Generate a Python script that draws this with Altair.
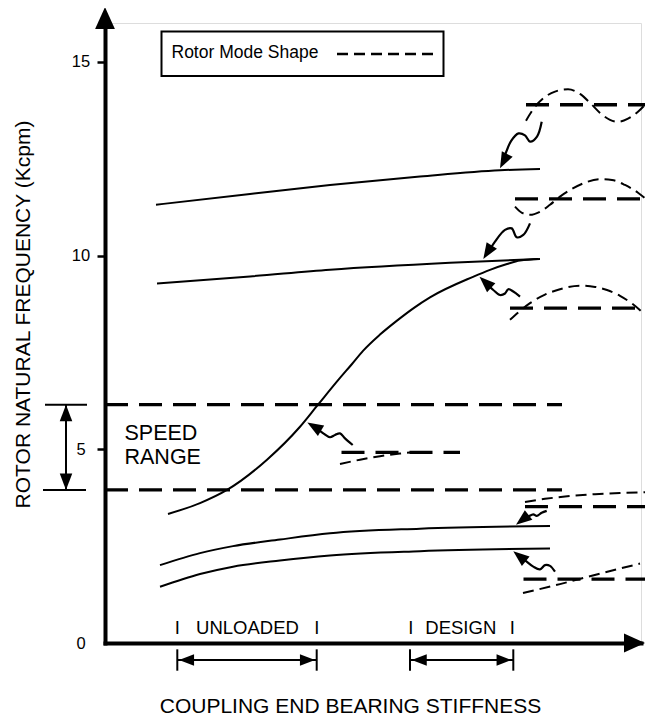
import altair as alt
import pandas as pd

FONT = "Liberation Sans"

# ---------------- data ----------------
# y axis ticks (Kcpm)
y_tick_values = [0, 5, 10, 15]

# rotor natural-frequency curves: x = relative coupling-end bearing stiffness, y = Kcpm
curve_A_x = [10.2, 29, 45, 63, 79, 87]
curve_A_y = [11.31, 11.59, 11.82, 12.04, 12.20, 12.23]
curve_B_x = [10.4, 29, 45, 69, 86.6]
curve_B_y = [9.28, 9.46, 9.63, 9.81, 9.91]
curve_C_x = [12.6, 19, 24.4, 32.4, 39, 42.6, 47, 49.4, 51.6, 55, 58.4, 61.8, 65, 73.6, 77, 80.4, 83, 87]
curve_C_y = [3.33, 3.61, 3.95, 4.73, 5.58, 6.15, 6.84, 7.20, 7.54, 7.96, 8.32, 8.65, 8.92, 9.45, 9.63, 9.78, 9.87, 9.91]
curve_D_x = [11, 19, 25.6, 35, 45, 63, 89]
curve_D_y = [2.01, 2.32, 2.50, 2.67, 2.83, 2.95, 3.02]
curve_E_x = [11, 19, 25.6, 35, 45, 63, 89]
curve_E_y = [1.45, 1.78, 1.97, 2.13, 2.26, 2.37, 2.44]

# speed range limits (Kcpm) and extent of the dashed lines
speed_hi = 6.15
speed_lo = 3.95
speed_line_x = [0, 91.4]

# rotor mode shapes: baseline level, baseline extent, deflected shape
mode_names = ["m1", "m2", "m3", "m4", "m5", "m6"]
mode_base_y = [13.89, 11.46, 8.64, 4.92, 3.52, 1.65]
mode_base_x0 = [84.2, 82.0, 81.0, 47.3, 84.0, 83.7]
mode_base_x1 = [108.0, 107.3, 109.6, 71.0, 108.0, 108.0]
mode1_x = [84.2, 85.6, 87.6, 90, 92.6, 95, 97, 99, 101, 102.6, 104.6, 106.6, 108]
mode1_y = [13.48, 13.77, 14.05, 14.23, 14.29, 14.17, 13.94, 13.68, 13.50, 13.45, 13.53, 13.71, 13.89]
mode2_x = [82, 83.4, 85, 87, 89, 91, 93.4, 96, 99, 101.4, 104, 106.6, 109]
mode2_y = [11.26, 11.10, 11.05, 11.13, 11.31, 11.52, 11.72, 11.88, 11.97, 11.95, 11.82, 11.62, 11.36]
mode3_x = [81, 83, 85, 88, 91, 95, 98, 100.4, 103, 105.6, 108]
mode3_y = [8.34, 8.57, 8.77, 8.99, 9.13, 9.22, 9.19, 9.11, 8.96, 8.74, 8.47]
mode4_x = [47, 51, 55, 59, 62]
mode4_y = [4.62, 4.73, 4.82, 4.89, 4.93]
mode5_x = [84, 88, 92, 98, 103, 108]
mode5_y = [3.64, 3.72, 3.78, 3.84, 3.87, 3.89]
mode6_x = [83.6, 91, 99, 107]
mode6_y = [1.29, 1.52, 1.79, 2.05]

# wavy pointer arrows (from mode shape to curve)
wave1_x = [87.34, 86.4, 85.0, 84.0, 82.7, 81.2, 80.0, 79.6]
wave1_y = [13.45, 13.07, 12.94, 13.10, 13.15, 12.95, 12.59, 12.46]
wave2_x = [85.0, 83.66, 82.34, 81.34, 80.0, 78.0, 77.0]
wave2_y = [10.83, 10.53, 10.47, 10.70, 10.66, 10.36, 10.16]
wave3_x = [83.0, 81.66, 80.66, 80.0, 79.0, 77.66, 76.8]
wave3_y = [8.94, 9.07, 9.13, 9.02, 8.98, 9.11, 9.21]
wave4_x = [49.54, 48.0, 47.0, 46.0, 45.0, 43.66, 42.2]
wave4_y = [5.11, 5.28, 5.41, 5.37, 5.31, 5.41, 5.55]
wave5_x = [88.34, 87.34, 86.34, 85.66, 84.66, 83.66]
wave5_y = [3.41, 3.36, 3.28, 3.32, 3.26, 3.19]
wave6_x = [90.0, 89.0, 88.0, 87.0, 85.66, 84.34, 83.4]
wave6_y = [1.84, 1.99, 2.01, 1.90, 1.97, 2.10, 2.19]
# arrow tips and their directions (degrees, clockwise from up)
tip_x = [79.0, 75.66, 74.9, 40.46, 82.2, 81.66]
tip_y = [12.25, 9.91, 9.45, 5.69, 3.05, 2.37]
tip_angle = [207, 212, 313, 301, 232, 309]

# legend box
legend_box_x = [11.3, 67.7]
legend_box_y = [14.63, 15.78]
legend_label = "Rotor Mode Shape"
legend_label_pos = [13.3, 15.22]
legend_dash_x = [46.4, 65.6]
legend_dash_y = 15.2

# speed range annotation
speed_labels = ["SPEED", "RANGE"]
speed_label_x = 3.9
speed_label_y = [5.39, 4.77]
speed_arrow_x = -7.8
speed_cap_x0 = [-12.0, -12.4]
speed_cap_x1 = [-3.6, -3.8]

# stiffness ranges below the axis
range_names = ["UNLOADED", "DESIGN"]
range_x0 = [14.46, 61.0]
range_x1 = [42.34, 81.66]
range_label_x = [28.5, 71.16]
range_mark_x = [14.46, 42.34, 61.14, 81.46]
range_label_y = 0.38
range_arrow_y = -0.439
range_bar_y = [-0.163, -0.715]

# axis arrow tips
y_axis_tip = [0.0, 16.41]
x_axis_tip = [108.0, 0.0]

# ---------------- helpers ----------------
SMALL_HEAD = "M0,0L-0.38,1L0.38,1Z"
BIG_HEAD = "M0,0L-0.45,1L0.45,1Z"

X_MAX = 107.2
xs = alt.Scale(domain=[0, X_MAX], nice=False, zero=False)
ys = alt.Scale(domain=[0, 16], nice=False, zero=False)

x_axis = alt.Axis(
    domainColor="black", domainWidth=4, domainCap="square",
    ticks=False, labels=False, grid=False,
    title="COUPLING END BEARING STIFFNESS", titleFont=FONT, titleFontSize=21,
    titleFontWeight="normal", titleColor="black",
    titleX=245, titleY=63, titleAlign="center", titleBaseline="middle",
)
y_axis = alt.Axis(
    values=y_tick_values, domainColor="black", domainWidth=4, domainCap="square",
    tickColor="black", tickWidth=2.5, tickSize=8,
    tickOpacity={"condition": {"test": "datum.value === 0", "value": 0}, "value": 1},
    labelFont=FONT, labelFontSize=16.5, labelColor="black", labelAlign="center",
    labelPadding=16.5, labelBaseline="middle", grid=False,
    title="ROTOR NATURAL FREQUENCY (Kcpm)", titleFont=FONT, titleFontSize=21,
    titleFontWeight="normal", titleColor="black",
    titleX=-82, titleY=291, titleAngle=270, titleAlign="center", titleBaseline="middle",
)


def X(f="x"):
    return alt.X(f"{f}:Q", scale=xs, axis=x_axis)


def Y(f="y"):
    return alt.Y(f"{f}:Q", scale=ys, axis=y_axis)


def series_df(items):
    rows = []
    for name, xx, yy in items:
        for i, (a, b) in enumerate(zip(xx, yy)):
            rows.append({"id": name, "i": i, "x": a, "y": b})
    return pd.DataFrame(rows)


def line_layer(df, **mark):
    return alt.Chart(df).mark_line(color="black", **mark).encode(
        x=X(), y=Y(), detail="id:N", order="i:Q"
    )


layers = []

# legend box
legend_df = pd.DataFrame([{"x": legend_box_x[0], "x2": legend_box_x[1],
                           "y": legend_box_y[0], "y2": legend_box_y[1]}])
layers.append(alt.Chart(legend_df).mark_rect(fill="white", stroke="black", strokeWidth=2).encode(
    x=X(), x2=alt.X2("x2"), y=Y(), y2=alt.Y2("y2")))
layers.append(line_layer(series_df([("leg", legend_dash_x, [legend_dash_y, legend_dash_y])]),
                         strokeWidth=2.5, strokeDash=[11, 6]))

# solid frequency curves
curves = series_df([("A", curve_A_x, curve_A_y), ("B", curve_B_x, curve_B_y),
                    ("C", curve_C_x, curve_C_y), ("D", curve_D_x, curve_D_y),
                    ("E", curve_E_x, curve_E_y)])
layers.append(line_layer(curves, strokeWidth=2, interpolate="monotone"))

# speed range dashed lines
speed_df = series_df([("hi", speed_line_x, [speed_hi, speed_hi]),
                      ("lo", speed_line_x, [speed_lo, speed_lo])])
layers.append(line_layer(speed_df, strokeWidth=3.3, strokeDash=[23, 11]))

# mode baselines
base_df = series_df([(n, [a, b], [y, y]) for n, a, b, y in
                     zip(mode_names, mode_base_x0, mode_base_x1, mode_base_y)])
layers.append(line_layer(base_df, strokeWidth=3.3, strokeDash=[23, 11]))

# mode shapes
shapes_df = series_df([("m1", mode1_x, mode1_y), ("m2", mode2_x, mode2_y),
                       ("m3", mode3_x, mode3_y), ("m4", mode4_x, mode4_y),
                       ("m5", mode5_x, mode5_y), ("m6", mode6_x, mode6_y)])
layers.append(line_layer(shapes_df, strokeWidth=2, strokeDash=[11, 6], interpolate="monotone"))

# wavy pointers
waves_df = series_df([("w1", wave1_x, wave1_y), ("w2", wave2_x, wave2_y),
                      ("w3", wave3_x, wave3_y), ("w4", wave4_x, wave4_y),
                      ("w5", wave5_x, wave5_y), ("w6", wave6_x, wave6_y)])
layers.append(line_layer(waves_df, strokeWidth=2.2, interpolate="catmull-rom"))

# straight annotation segments (speed arrow shaft + caps, range shafts + bars)
seg_rows = [{"x": speed_arrow_x, "x2": speed_arrow_x, "y": speed_hi, "y2": speed_lo}]
seg_rows.append({"x": speed_cap_x0[0], "x2": speed_cap_x1[0], "y": speed_hi, "y2": speed_hi})
seg_rows.append({"x": speed_cap_x0[1], "x2": speed_cap_x1[1], "y": speed_lo, "y2": speed_lo})
for a, b in zip(range_x0, range_x1):
    seg_rows.append({"x": a, "x2": b, "y": range_arrow_y, "y2": range_arrow_y})
    for xx in (a, b):
        seg_rows.append({"x": xx, "x2": xx, "y": range_bar_y[0], "y2": range_bar_y[1]})
seg_df = pd.DataFrame(seg_rows)
layers.append(alt.Chart(seg_df).mark_rule(color="black", strokeWidth=2).encode(
    x=X(), x2=alt.X2("x2"), y=Y(), y2=alt.Y2("y2")))

# small arrowheads
head_rows = [{"x": a, "y": b, "a": c, "s": 1024} for a, b, c in zip(tip_x, tip_y, tip_angle)]
head_rows += [{"x": speed_arrow_x, "y": speed_hi, "a": 0, "s": 1089},
              {"x": speed_arrow_x, "y": speed_lo, "a": 180, "s": 1089}]
for a, b in zip(range_x0, range_x1):
    head_rows += [{"x": a + 0.35, "y": range_arrow_y, "a": 270, "s": 900},
                  {"x": b - 0.35, "y": range_arrow_y, "a": 90, "s": 900}]
layers.append(alt.Chart(pd.DataFrame(head_rows)).mark_point(
    shape=SMALL_HEAD, filled=True, opacity=1, color="black").encode(
    x=X(), y=Y(), angle=alt.Angle("a:Q", scale=None), size=alt.Size("s:Q", scale=None)))

# axis arrowheads
axis_heads = pd.DataFrame([{"x": y_axis_tip[0], "y": y_axis_tip[1], "a": 0, "s": 1936},
                           {"x": x_axis_tip[0], "y": x_axis_tip[1], "a": 90, "s": 1764}])
layers.append(alt.Chart(axis_heads).mark_point(
    shape=BIG_HEAD, filled=True, opacity=1, color="black").encode(
    x=X(), y=Y(), angle=alt.Angle("a:Q", scale=None), size=alt.Size("s:Q", scale=None)))

# left-aligned texts
left_texts = pd.DataFrame(
    [{"t": legend_label, "x": legend_label_pos[0], "y": legend_label_pos[1], "s": 17.5}]
    + [{"t": t, "x": speed_label_x, "y": yy, "s": 21.5} for t, yy in zip(speed_labels, speed_label_y)]
)
layers.append(alt.Chart(left_texts).mark_text(
    font=FONT, align="left", baseline="middle", color="black").encode(
    x=X(), y=Y(), text="t:N", size=alt.Size("s:Q", scale=None)))

# centered texts (range labels and range end marks)
center_texts = pd.DataFrame(
    [{"t": t, "x": xx, "y": range_label_y} for t, xx in zip(range_names, range_label_x)]
    + [{"t": "I", "x": xx, "y": range_label_y} for xx in range_mark_x]
)
layers.append(alt.Chart(center_texts).mark_text(
    font=FONT, fontSize=18.5, align="center", baseline="middle", color="black").encode(
    x=X(), y=Y(), text="t:N"))

chart = alt.layer(*layers).properties(
    width=536, height=620,
    padding={"left": 97, "top": 15, "right": 5, "bottom": 74},
    autosize=alt.AutoSizeParams(type="none"),
).configure_view(stroke=None).configure(font=FONT)

chart.save("out.html", embed_options={"renderer": "svg", "actions": False})
